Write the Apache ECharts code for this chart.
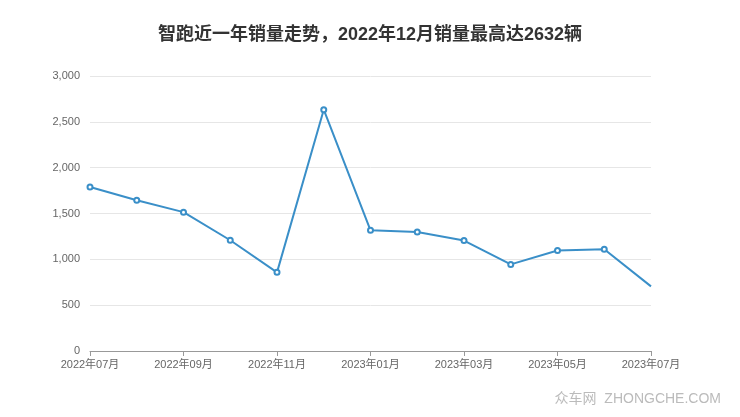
<!DOCTYPE html>
<html><head><meta charset="utf-8">
<script src="https://cdn.jsdelivr.net/npm/echarts@6/dist/echarts.min.js"></script>
<style>html,body{margin:0;padding:0;background:#fff}#c{width:740px;height:417px}</style>
</head><body><div id="c"></div>
<script>
var categories = ['2022年07月','2022年08月','2022年09月','2022年10月','2022年11月','2022年12月','2023年01月','2023年02月','2023年03月','2023年04月','2023年05月','2023年06月','2023年07月'];
var sales = [1790, 1645, 1515, 1208, 858, 2632, 1317, 1298, 1205, 945, 1097, 1110, 705];
var yTicks = [0, 500, 1000, 1500, 2000, 2500, 3000];

var chart = echarts.init(document.getElementById('c'));
chart.setOption({
  animation: false,
  title: {
    text: '智跑近一年销量走势，2022年12月销量最高达2632辆',
    left: 'center', top: 21,
    textStyle: {fontSize: 18, fontWeight: 'bold', color: '#333', fontFamily: '"Liberation Sans", "Noto Sans CJK SC", sans-serif'}
  },
  graphic: [{
    type: 'text', right: 19, bottom: 11,
    style: {text: '众车网  ZHONGCHE.COM', fontSize: 14, fill: '#bbb', fontFamily: '"Liberation Sans", "Noto Sans CJK SC", sans-serif'}
  }],
  grid: {left: 90, right: 89, top: 76, bottom: 66},
  xAxis: {
    type: 'category', data: categories, boundaryGap: false,
    axisLine: {lineStyle: {color: '#999'}},
    axisTick: {interval: 1, lineStyle: {color: '#999'}},
    axisLabel: {interval: 1, color: '#666', fontSize: 11, fontFamily: '"Liberation Sans", "Noto Sans CJK SC", sans-serif'}
  },
  yAxis: {
    type: 'value', min: yTicks[0], max: yTicks[yTicks.length - 1], interval: 500,
    axisLine: {show: false}, axisTick: {show: false},
    splitLine: {lineStyle: {color: '#e6e6e6'}},
    axisLabel: {color: '#666', fontSize: 11, margin: 10, fontFamily: '"Liberation Sans", sans-serif',
      formatter: function (v) { return v.toLocaleString('en-US'); }}
  },
  series: [{
    type: 'line',
    data: sales.map(function (v, i) { return i === sales.length - 1 ? {value: v, symbol: 'none'} : v; }),
    symbol: 'emptyCircle', symbolSize: 5, showAllSymbol: true,
    lineStyle: {color: '#3a8fc8', width: 2},
    itemStyle: {color: '#3a8fc8', borderWidth: 1.5}
  }]
});
</script></body></html>
